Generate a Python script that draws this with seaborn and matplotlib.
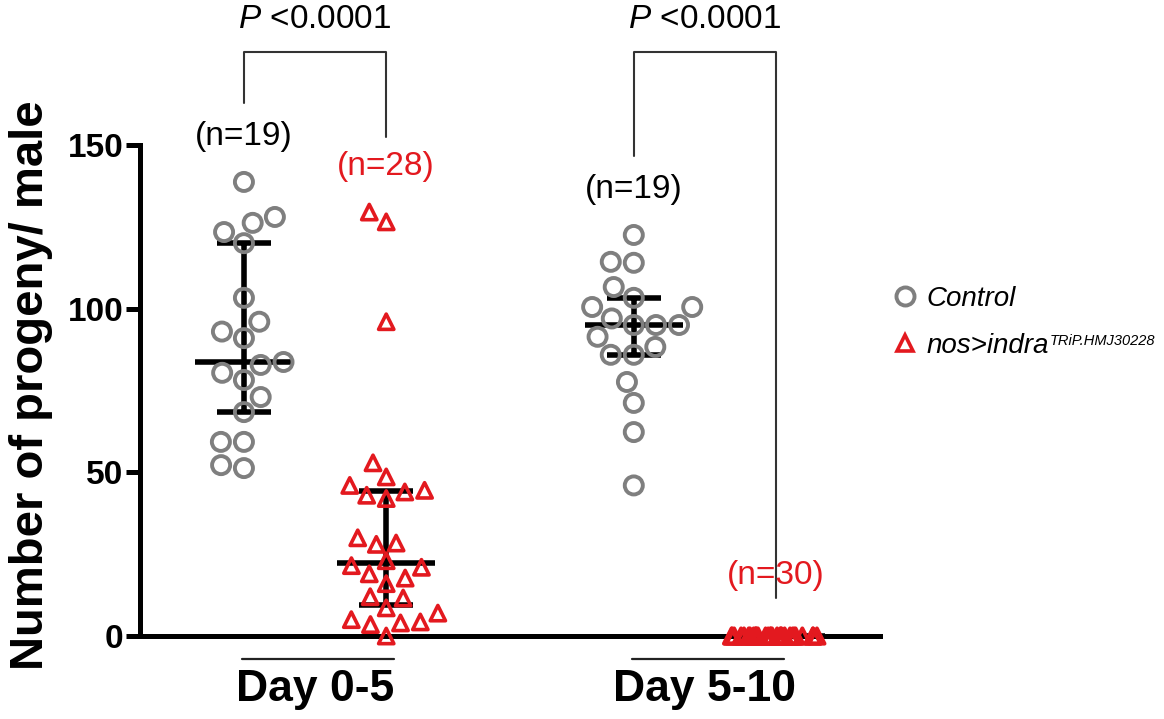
import numpy as np
import pandas as pd
import matplotlib
matplotlib.use('Agg')
import matplotlib.pyplot as plt
import matplotlib.transforms as mtransforms
from matplotlib.lines import Line2D
import seaborn as sns

# ── Data ──────────────────────────────────────────────────────────────────
days = ['Day 0-5', 'Day 5-10']
genotypes = ['Control', 'nos>indra']
rnai_superscript = 'TRiP.HMJ30228'

ctrl_d0_5 = [138.7, 128, 123.4, 126.2, 120, 103.3, 96, 93, 91, 83.7,
             82.8, 80.4, 78.2, 73, 68.4, 59.3, 59.3, 51.3, 52.2]
rnai_d0_5 = [0, 3.5, 4, 4.3, 5, 7, 8.6, 11.6, 12, 16, 17.7, 19, 21, 21.5,
             23, 28, 28.4, 30, 42, 43, 44, 44.5, 46, 48.6, 52.9, 96, 126.5, 129.5]
ctrl_d5_10 = [122.5, 114.3, 114, 106.6, 103.3, 100.5, 100.5, 95, 95, 95,
              91.4, 97, 88.3, 85.9, 85.9, 77.6, 71.2, 62.3, 46]
rnai_d5_10 = [0] * 30

p_labels = ['<0.0001', '<0.0001']

GREY = '#7f7f7f'
RED = '#e3191f'

# ── Frame ─────────────────────────────────────────────────────────────────
groups = [(days[0], genotypes[0], ctrl_d0_5), (days[0], genotypes[1], rnai_d0_5),
          (days[1], genotypes[0], ctrl_d5_10), (days[1], genotypes[1], rnai_d5_10)]
df = pd.concat([pd.DataFrame({'day': d, 'genotype': g, 'progeny': v})
                for d, g, v in groups], ignore_index=True)

half_gap = 0.1825   # distance of each genotype from the day centre
day_idx = df['day'].map({d: i for i, d in enumerate(days)})
df['xpos'] = day_idx + np.where(df['genotype'] == genotypes[0], -half_gap, half_gap)

def iqr(x):
    # GraphPad-style quartiles
    return (np.percentile(x, 25, method='weibull'), np.percentile(x, 75, method='weibull'))

sns.set_style('white')
plt.rcParams['font.family'] = ['Liberation Sans', 'DejaVu Sans']
plt.rcParams['mathtext.fontset'] = 'custom'
plt.rcParams['mathtext.rm'] = 'Liberation Sans'
plt.rcParams['mathtext.it'] = 'Liberation Sans:italic'
for k in ['text.color', 'axes.labelcolor', 'xtick.color', 'ytick.color']:
    plt.rcParams[k] = 'black'

fig = plt.figure(figsize=(11.64, 7.19), dpi=100)
ax = fig.add_axes([0.1203, 0.1154, 0.6357, 0.683])

ctrl = df[df['genotype'] == genotypes[0]]
rnai = df[df['genotype'] == genotypes[1]]
zero_grp = rnai[rnai['day'] == days[1]]
rnai_swarm = rnai[rnai['day'] == days[0]]

sns.swarmplot(data=ctrl, x='xpos', y='progeny', native_scale=True, ax=ax,
              marker='o', size=13, color='white', edgecolor=GREY, linewidth=2.8)
sns.swarmplot(data=rnai_swarm, x='xpos', y='progeny', native_scale=True, ax=ax,
              marker='^', size=11, color='white', edgecolor=RED, linewidth=2.6)
np.random.seed(3)
sns.stripplot(data=zero_grp, x='xpos', y='progeny', native_scale=True, ax=ax,
              marker='^', size=11, color='white', edgecolor=RED, linewidth=2.8, jitter=0.12)
for coll in ax.collections:
    coll.set_facecolor('none')
    coll.set_clip_on(False)

sns.pointplot(data=df, x='xpos', y='progeny', native_scale=True, ax=ax,
              estimator=np.median, errorbar=iqr, color='black', markers='_',
              linestyles='none', markersize=70, markeredgewidth=4, capsize=0.38,
              err_kws={'linewidth': 4, 'solid_capstyle': 'butt'})
for ln in ax.lines:
    ln.set_clip_on(False)

# ── Axes styling ──────────────────────────────────────────────────────────
ax.set_xlim(-0.449, 1.449)
ax.set_ylim(0, 150)
ax.set_yticks([0, 50, 100, 150])
ax.set_xticks(range(len(days)))
ax.set_xticklabels(days, fontsize=32, fontweight='bold')
for lab in ax.get_yticklabels():
    lab.set_fontsize(24)
    lab.set_fontweight('bold')
ax.tick_params(axis='x', length=0, pad=24)
ax.tick_params(axis='y', length=10, width=3.6, pad=2, left=True, color='black')
ax.set_xlabel('')
ax.set_ylabel('Number of progeny/ male', fontsize=34, fontweight='bold')
ax.yaxis.set_label_coords(-0.118, 0.51)
sns.despine(ax=ax)
for side in ['left', 'bottom']:
    ax.spines[side].set_linewidth(3.6)
    ax.spines[side].set_color('black')

# group underlines below the axis
trans = mtransforms.blended_transform_factory(ax.transData, ax.transAxes)
for i in range(len(days)):
    ax.plot([i - half_gap - 0.005, i + half_gap + 0.02], [-0.047, -0.047],
            transform=trans, color='#222222', lw=1.6, clip_on=False)

# n labels
for d, g, v in groups:
    x = days.index(d) + (-half_gap if g == genotypes[0] else half_gap)
    top = max(v)
    col = 'black' if g == genotypes[0] else RED
    y = top + 14 if top > 0 else 18.6
    ax.text(x, y, f'(n={len(v)})', ha='center', va='center', fontsize=24,
            color=col, clip_on=False)

# significance brackets
bracket_top = 178.4
for i, p in enumerate(p_labels):
    xl, xr = i - half_gap, i + half_gap
    ctrl_top = max(groups[2 * i][2])
    rnai_top = max(groups[2 * i + 1][2])
    yl = ctrl_top + 24
    yr = rnai_top + 23 if rnai_top > 0 else 11.6
    ax.plot([xl, xl, xr, xr], [yl, bracket_top, bracket_top, yr], color='#333333',
            lw=1.5, clip_on=False)
    ax.text(i, 188.2, r'$\mathit{P}$ ' + p, ha='center', va='center', fontsize=24,
            clip_on=False)

handles = [Line2D([], [], ls='none', marker='o', ms=13, mfc='none', mec=GREY, mew=2.8),
           Line2D([], [], ls='none', marker='^', ms=11, mfc='none', mec=RED, mew=2.6)]
leg = ax.legend(handles, genotypes, loc='center left', bbox_to_anchor=(0.755, 0.552),
                bbox_transform=fig.transFigure, frameon=False,
                prop={'size': 20, 'style': 'italic'},
                handlelength=0.9, handletextpad=0.3, labelspacing=0.75, borderpad=0)

# superscript for the transgene name
fig.canvas.draw()
bb = leg.get_texts()[1].get_window_extent()
fig.text((bb.x1 + 1) / fig.bbox.width, (bb.y1 - 1) / fig.bbox.height, rnai_superscript,
         fontsize=10.5, style='italic', ha='left', va='top')

fig.savefig('out.png', dpi=100)
